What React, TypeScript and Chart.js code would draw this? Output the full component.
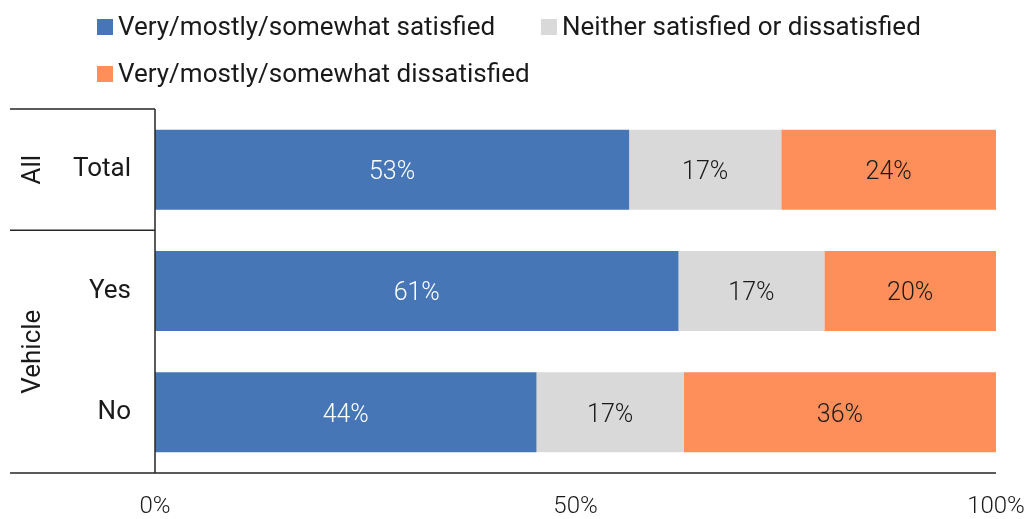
import React, { useEffect, useRef } from "react";
import { Chart, registerables } from "chart.js";

Chart.register(...registerables);

const categories = ["Total", "Yes", "No"];
const groups = [
  { label: "All", from: 0, to: 0 },
  { label: "Vehicle", from: 1, to: 2 },
];
const seriesNames = [
  "Very/mostly/somewhat satisfied",
  "Neither satisfied or dissatisfied",
  "Very/mostly/somewhat dissatisfied",
];
const satisfied = [53, 61, 44];
const neither = [17, 17, 17];
const dissatisfied = [24, 20, 36];
const xTicks = [0, 50, 100];

const colors = ["#4676B6", "#D9D9D9", "#FF8F5A"];
const labelColors = ["#FFFFFF", "#1a1a1a", "#1a1a1a"];
const FONT = "Roboto, 'Noto Sans', sans-serif";
const LINE = "#262626";

const raw = [satisfied, neither, dissatisfied];
const totals = categories.map((_, i) => raw.reduce((s, r) => s + r[i], 0));
const shares = raw.map((r) => r.map((v, i) => (v / totals[i]) * 100));

const overlay = {
  id: "overlay",
  afterDatasetsDraw(chart: any) {
    const ctx = chart.ctx;
    const area = chart.chartArea;
    // data labels
    ctx.save();
    ctx.font = `300 25px ${FONT}`;
    ctx.textAlign = "center";
    ctx.textBaseline = "middle";
    chart.data.datasets.forEach((ds: any, di: number) => {
      const meta = chart.getDatasetMeta(di);
      meta.data.forEach((bar: any, i: number) => {
        const cx = (bar.x + bar.base) / 2;
        ctx.fillStyle = labelColors[di];
        ctx.fillText(raw[di][i] + "%", cx, bar.y + 3);
      });
    });
    ctx.restore();

    // separator lines & group labels
    ctx.save();
    ctx.strokeStyle = LINE;
    ctx.lineWidth = 1.5;
    const band = (area.bottom - area.top) / categories.length;
    const leftX = 10;
    ctx.beginPath();
    groups.forEach((g) => {
      const yTop = area.top + g.from * band;
      ctx.moveTo(leftX, yTop);
      ctx.lineTo(area.left, yTop);
    });
    ctx.moveTo(leftX, area.bottom);
    ctx.lineTo(area.right, area.bottom);
    ctx.moveTo(area.left, area.top);
    ctx.lineTo(area.left, area.bottom);
    ctx.stroke();

    ctx.fillStyle = "#1a1a1a";
    ctx.font = `26px ${FONT}`;
    ctx.textAlign = "center";
    ctx.textBaseline = "middle";
    groups.forEach((g) => {
      const yc = (area.top + g.from * band + area.top + (g.to + 1) * band) / 2;
      ctx.save();
      ctx.translate(33, yc);
      ctx.rotate(-Math.PI / 2);
      ctx.fillText(g.label, 0, 0);
      ctx.restore();
    });
    ctx.restore();

    // legend
    ctx.save();
    ctx.font = `26px ${FONT}`;
    ctx.textBaseline = "middle";
    ctx.textAlign = "left";
    const items = [
      { x: 97, y: 27 },
      { x: 541, y: 27 },
      { x: 97, y: 74 },
    ];
    items.forEach((it, i) => {
      ctx.fillStyle = colors[i];
      ctx.fillRect(it.x, it.y - 8, 16, 16);
      ctx.fillStyle = "#1a1a1a";
      ctx.fillText(seriesNames[i], it.x + 21, it.y + 1);
    });
    ctx.restore();
  },
};

export default function App() {
  const ref = useRef<HTMLCanvasElement>(null);
  useEffect(() => {
    document.body.style.margin = "0";
    const chart = new Chart(ref.current!, {
      type: "bar",
      data: {
        labels: categories,
        datasets: shares.map((d, i) => ({
          label: seriesNames[i],
          data: d,
          backgroundColor: colors[i],
          borderWidth: 0,
          categoryPercentage: 1,
          barPercentage: 0.66,
        })),
      },
      options: {
        indexAxis: "y",
        animation: false,
        responsive: false,
        maintainAspectRatio: false,
        layout: { padding: { top: 109, right: 34, bottom: 0, left: 0 } },
        plugins: { legend: { display: false }, tooltip: { enabled: false } },
        scales: {
          x: {
            stacked: true,
            min: 0,
            max: 100,
            afterBuildTicks: (s: any) => {
              s.ticks = xTicks.map((v) => ({ value: v }));
            },
            afterFit: (s: any) => {
              s.height = 46;
              s.paddingLeft = 0;
              s.paddingRight = 0;
            },
            grid: { display: false },
            border: { display: false },
            ticks: {
              padding: 12,
              color: "#1a1a1a",
              font: { family: FONT, size: 24, weight: "300", lineHeight: 1.2 },
              callback: (v: any) => v + "%",
              maxRotation: 0,
              autoSkip: false,
            },
          },
          y: {
            stacked: true,
            grid: { display: false },
            border: { display: false },
            afterFit: (s: any) => {
              s.width = 155;
            },
            ticks: {
              padding: 16,
              color: "#1a1a1a",
              font: { family: FONT, size: 26 },
            },
          },
        },
      },
      plugins: [overlay],
    });
    return () => chart.destroy();
  }, []);
  return <canvas ref={ref} width={1030} height={519} style={{ display: "block" }} />;
}
